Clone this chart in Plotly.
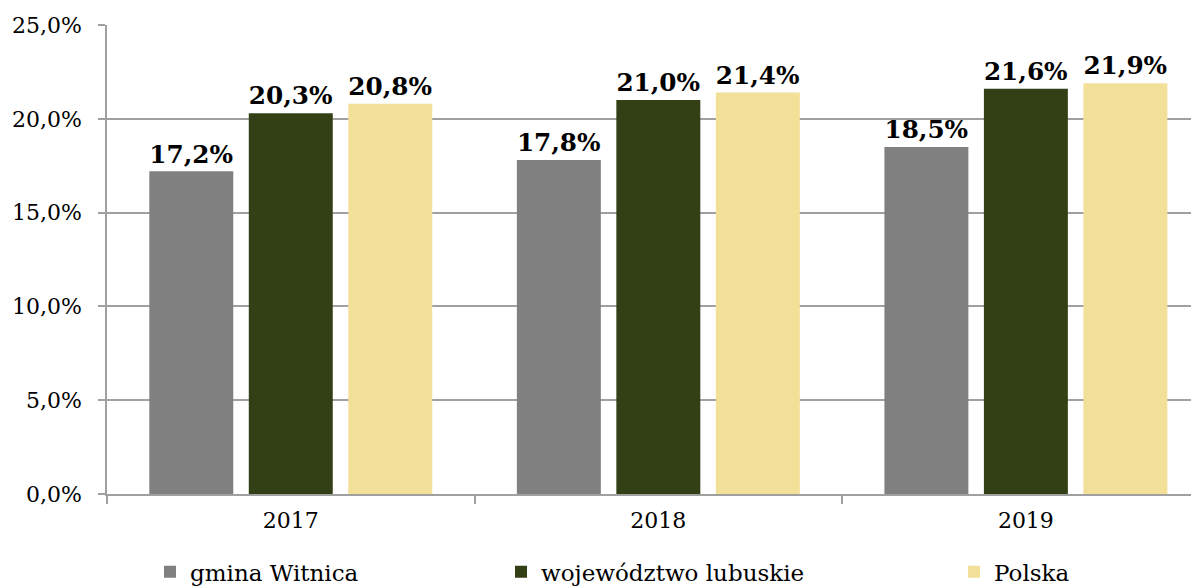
import plotly.graph_objects as go

years = ["2017", "2018", "2019"]
gmina = [0.172, 0.178, 0.185]
wojewodztwo = [0.203, 0.210, 0.216]
polska = [0.208, 0.214, 0.219]

series_names = ["gmina Witnica", "województwo lubuskie", "Polska"]
series_values = [gmina, wojewodztwo, polska]
colors = ["#808080", "#333F15", "#F2DF98"]
legend_ids = ["legend", "legend2", "legend3"]

FONT = "DejaVu Serif"

# page body has an 8px margin; compensate
L, T, B = 99, 17, 93
W, H = 1191, 579
PW = W - L

fig = go.Figure()
for name, vals, col, lg in zip(series_names, series_values, colors, legend_ids):
    fig.add_trace(go.Bar(
        x=years, y=vals, name=name, legend=lg,
        marker=dict(color=col, line=dict(width=0)),
        texttemplate="%{y:.1%}", textposition="outside",
        textfont=dict(family=FONT, size=26, color="black", weight="bold"),
        cliponaxis=False,
    ))

legend_common = dict(
    orientation="h", yanchor="middle", xanchor="left",
    font=dict(family=FONT, size=23, color="black"),
    bgcolor="rgba(0,0,0,0)", itemwidth=30, tracegroupgap=0,
)
fig.update_layout(
    width=W, height=H,
    margin=dict(l=L, r=0, t=T, b=B, autoexpand=False),
    paper_bgcolor="white", plot_bgcolor="white",
    separators=", ",
    barmode="group", bargap=0.188, bargroupgap=0.156,
    showlegend=True,
    legend=dict(x=(150 - 8 - L) / PW, y=-0.166, **legend_common),
    legend2=dict(x=(501 - 8 - L) / PW, y=-0.166, **legend_common),
    legend3=dict(x=(954 - 8 - L) / PW, y=-0.166, **legend_common),
    xaxis=dict(
        type="category", range=[-0.5, 2.471], automargin=False,
        showline=True, linecolor="#A0A0A0", linewidth=1.5,
        ticks="outside", tickson="boundaries", ticklen=8, tickcolor="#A0A0A0", tickwidth=1.5,
        ticklabelstandoff=6,
        tickfont=dict(family=FONT, size=22, color="black"),
        showgrid=False,
    ),
    yaxis=dict(
        range=[0, 0.25], dtick=0.05, tickformat=".1%", automargin=False,
        showline=True, linecolor="#A0A0A0", linewidth=1.5,
        ticks="outside", ticklen=7, tickcolor="#A0A0A0", tickwidth=1.5,
        ticklabelstandoff=12,
        showgrid=True, gridcolor="#A0A0A0", gridwidth=1.5,
        tickfont=dict(family=FONT, size=22, color="black"),
        zeroline=False,
    ),
)

fig.write_html("out.html")
